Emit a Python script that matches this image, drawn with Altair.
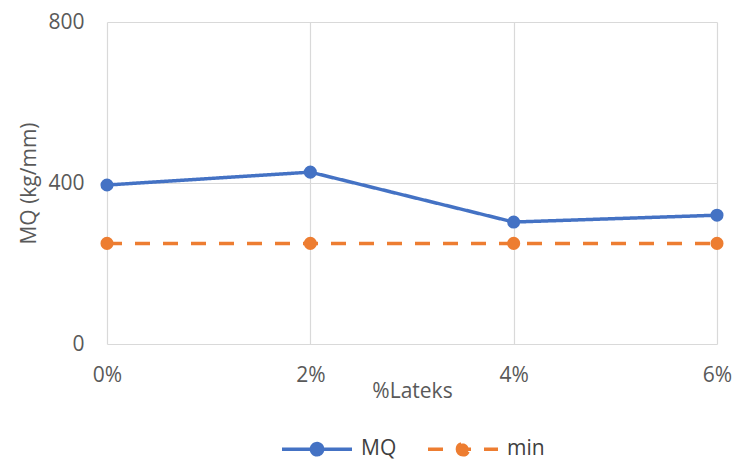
import altair as alt
import pandas as pd

# Latex content (x categories) and measured MQ values with the minimum requirement
lateks = ["0%", "2%", "4%", "6%"]
mq_values = [395, 427, 303, 320]
min_values = [250, 250, 250, 250]
series_names = ["MQ", "min"]
series_colors = ["#4472C4", "#ED7D31"]
series_dash = [[1, 0], [15, 13]]

rows = []
for i, cat in enumerate(lateks):
    rows.append({"lateks": cat, "series": "MQ", "value": mq_values[i]})
    rows.append({"lateks": cat, "series": "min", "value": min_values[i]})
df = pd.DataFrame(rows)

FONT = "Open Sans"
GRID = "#D9D9D9"
TEXT = "#595959"

# legend glyph: a horizontal stroke with a dot in the middle
legend_glyph = "M-1,0L1,0M-0.16,0a0.16,0.16 0 1,0 0.32,0a0.16,0.16 0 1,0 -0.32,0"

legend_kw = dict(
    title=None,
    orient="none",
    direction="horizontal",
    legendX=173,
    legendY=390,
    symbolType=legend_glyph,
    symbolSize=4900,
    symbolStrokeWidth=3.5,
    symbolOpacity=1,
    labelFont=FONT,
    labelFontSize=21,
    labelColor="#404040",
    labelOffset=7,
    columnPadding=24,
)

x_enc = alt.X(
    "lateks:O",
    sort=lateks,
    scale=alt.Scale(type="point", padding=0),
    axis=alt.Axis(
        title="%Lateks",
        labelAngle=0,
        labelPadding=20,
        ticks=False,
        domain=False,
        grid=True,
        gridColor=GRID,
        titleY=36,
        titleBaseline="top",
    ),
)
y_enc = alt.Y(
    "value:Q",
    scale=alt.Scale(domain=[0, 800], nice=False),
    axis=alt.Axis(
        title="MQ (kg/mm)",
        values=[0, 400, 800],
        labelPadding=23,
        ticks=False,
        domain=False,
        grid=True,
        gridColor=GRID,
        titleX=-68,
        titleY=161,
        titleAngle=270,
        titleBaseline="bottom",
        titleAlign="center",
    ),
)

base = alt.Chart(df).encode(x=x_enc, y=y_enc)

lines = base.mark_line(strokeWidth=3.5, strokeCap="butt").encode(
    stroke=alt.Stroke(
        "series:N",
        scale=alt.Scale(domain=series_names, range=series_colors),
        legend=alt.Legend(**legend_kw),
    ),
    strokeDash=alt.StrokeDash(
        "series:N",
        scale=alt.Scale(domain=series_names, range=series_dash),
        legend=alt.Legend(**legend_kw),
    ),
)

dots = base.mark_point(filled=True, size=170, opacity=1, strokeWidth=0).encode(
    fill=alt.Fill(
        "series:N",
        scale=alt.Scale(domain=series_names, range=series_colors),
        legend=alt.Legend(**legend_kw),
    ),
)

chart = (
    alt.layer(lines, dots)
    .properties(
        width=610,
        height=322,
        background="white",
        autosize=alt.AutoSizeParams(type="none"),
        padding={"left": 107, "top": 22, "right": 17, "bottom": 117},
    )
    .configure_view(stroke=None)
    .configure_axis(
        labelFont=FONT,
        labelFontSize=21,
        labelColor=TEXT,
        titleFont=FONT,
        titleFontSize=21,
        titleFontWeight="normal",
        titleColor=TEXT,
        gridWidth=1.2,
    )
)

chart.save("out.html", embed_options={"renderer": "svg", "actions": False})
